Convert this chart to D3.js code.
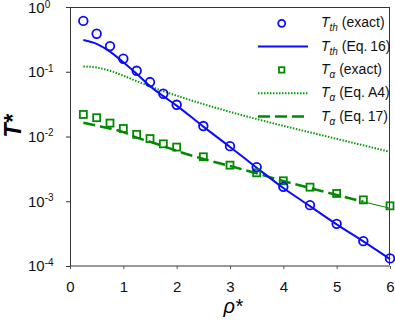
<!DOCTYPE html>
<html>
<head>
<meta charset="utf-8">
<script src="https://cdn.jsdelivr.net/npm/d3@7"></script>
<style>
  body { margin: 0; background: #fff; }
  text { font-family: Arial, "Liberation Sans", sans-serif; }
</style>
</head>
<body>
<svg id="chart" width="395" height="325"></svg>
<script>
// rho* values shared by every series
const rho = [0.25, 0.5, 0.75, 1, 1.25, 1.5, 1.75, 2, 2.5, 3, 3.5, 4, 4.5, 5, 5.5, 6]

// T_th exact (circles) and Eq.16 (solid line)
const thExact = [0.61, 0.386, 0.249, 0.159, 0.1035, 0.0693, 0.0457, 0.0309, 0.0145, 0.0071, 0.00337, 0.00167, 0.00087, 0.000448, 0.000242, 0.000131]
const thEq16 = [0.31, 0.27, 0.205, 0.14, 0.093, 0.06, 0.042, 0.030, 0.0142, 0.0069, 0.0033, 0.0016, 0.00084, 0.00044, 0.00024, 0.000128]

// T_alpha exact (squares), Eq.A4 (dotted), Eq.17 (dashed)
const alExact = [0.0219, 0.0195, 0.0161, 0.0133, 0.0108, 0.0093, 0.0077, 0.00686, 0.00486, 0.00361, 0.00275, 0.00207, 0.00165, 0.00132, 0.00105, 0.00085]
const alEqA4 = [0.121, 0.116, 0.1035, 0.087, 0.0716, 0.0596, 0.0501, 0.0427, 0.0316, 0.024, 0.0186, 0.0146, 0.0116, 0.0092, 0.0073, 0.0058]
const alEq17 = [0.0163, 0.0147, 0.0133, 0.0117, 0.0096, 0.0083, 0.0071, 0.0060, 0.0045, 0.0035, 0.0027, 0.00205, 0.0016, 0.00125, 0.00098, 0.00078]

const xTicks = [0, 1, 2, 3, 4, 5, 6]
const yTicks = [1, 0.1, 0.01, 0.001, 0.0001]
const yExp = ['0', '-1', '-2', '-3', '-4']

const legendLabels = [
    {sub: 'th', rest: ' (exact)'},
    {sub: 'th', rest: ' (Eq.\u200916)'},
    {sub: '\u03b1', rest: ' (exact)'},
    {sub: '\u03b1', rest: ' (Eq. A4)'},
    {sub: '\u03b1', rest: ' (Eq.\u200917)'}
]

const blue = '#0a0aff'
const green = '#008a00'
const margin = {top: 7, right: 5, bottom: 59, left: 70}
const width = 395 - margin.left - margin.right
const height = 325 - margin.top - margin.bottom

const svg = d3.select('#chart')
const g = svg.append('g').attr('transform', 'translate(' + margin.left + ',' + margin.top + ')')

const x = d3.scaleLinear().domain([0, 6]).range([0, width])
const y = d3.scaleLog().domain([1e-4, 1]).range([height, 0])

// frame: top and right dark, bottom grey
g.append('line').attr('x1', 0).attr('x2', width).attr('y1', 0.5).attr('y2', 0.5)
    .attr('stroke', '#333').attr('stroke-width', 1)
g.append('line').attr('x1', width - 0.5).attr('x2', width - 0.5).attr('y1', 0).attr('y2', height)
    .attr('stroke', '#333').attr('stroke-width', 1)

// x axis
const xAxis = g.append('g').attr('transform', 'translate(0,' + height + ')')
    .call(d3.axisBottom(x).tickValues(xTicks).tickSize(3).tickFormat(d3.format('d')))
xAxis.select('.domain').attr('stroke', '#999').attr('stroke-width', 2).attr('d', 'M0,0H' + width)
xAxis.selectAll('.tick line').attr('stroke', '#555')
xAxis.selectAll('.tick text').attr('font-size', 15).attr('fill', '#111').attr('dy', '1.35em')

// y axis
const yAxis = g.append('g')
    .call(d3.axisLeft(y).tickValues(yTicks).tickSize(4).tickFormat(''))
yAxis.select('.domain').attr('stroke', '#333').attr('d', 'M0.5,0V' + height)
yAxis.selectAll('.tick line').attr('stroke', '#333')

const yLab = g.append('g').selectAll('text').data(yTicks).enter().append('text')
    .attr('x', 28 - margin.left)
    .attr('y', (d, i) => y(d) + (i === 0 ? 6.3 : 5.3))
    .attr('font-size', 15)
    .attr('fill', '#111')
yLab.append('tspan').text('10')
yLab.append('tspan').attr('font-size', 10).attr('dy', -5.5).text((d, i) => yExp[i])

// axis titles
svg.append('text')
    .attr('transform', 'translate(21,126) rotate(-90)')
    .attr('text-anchor', 'middle')
    .attr('font-size', 23).attr('font-weight', 'bold').attr('font-style', 'italic')
    .text('T*')
svg.append('text')
    .attr('x', 233).attr('y', 313)
    .attr('text-anchor', 'middle')
    .attr('font-size', 20).attr('font-style', 'italic')
    .text('\u03c1*')

const line = d3.line().x(d => x(d[0])).y(d => y(d[1])).curve(d3.curveMonotoneX)
const pairs = arr => rho.map((r, i) => [r, arr[i]])

// dotted Eq.A4
g.append('path').datum(pairs(alEqA4)).attr('d', line)
    .attr('fill', 'none').attr('stroke', '#00a000').attr('stroke-width', 2).attr('stroke-dasharray', '1.5,1.5')

// dashed Eq.17, thin tail at the end
const tailFrom = rho.indexOf(5.5)
g.append('path').datum(pairs(alEq17).slice(0, tailFrom + 1)).attr('d', line)
    .attr('fill', 'none').attr('stroke', green).attr('stroke-width', 2.5).attr('stroke-dasharray', '12,5')
g.append('path').datum(pairs(alEq17).slice(tailFrom)).attr('d', line)
    .attr('fill', 'none').attr('stroke', green).attr('stroke-width', 1)

// solid Eq.16
g.append('path').datum(pairs(thEq16)).attr('d', line)
    .attr('fill', 'none').attr('stroke', blue).attr('stroke-width', 2)

// squares
g.append('g').selectAll('rect').data(pairs(alExact)).enter().append('rect')
    .attr('x', d => x(d[0]) - 3.5).attr('y', d => y(d[1]) - 3.5)
    .attr('width', 7).attr('height', 7)
    .attr('fill', 'none').attr('stroke', green).attr('stroke-width', 1.8)

// circles
g.append('g').selectAll('circle').data(pairs(thExact)).enter().append('circle')
    .attr('cx', d => x(d[0])).attr('cy', d => y(d[1])).attr('r', 4.3)
    .attr('fill', 'none').attr('stroke', blue).attr('stroke-width', 1.8)

// legend
const leg = svg.append('g')
const rowY = i => 23.3 + i * 23.3
leg.append('circle').attr('cx', 281.7).attr('cy', rowY(0)).attr('r', 3.5)
    .attr('fill', 'none').attr('stroke', blue).attr('stroke-width', 1.8)
leg.append('line').attr('x1', 258).attr('x2', 308).attr('y1', rowY(1)).attr('y2', rowY(1))
    .attr('stroke', blue).attr('stroke-width', 2)
leg.append('rect').attr('x', 279).attr('y', rowY(2) - 2.7).attr('width', 5.4).attr('height', 5.4)
    .attr('fill', 'none').attr('stroke', green).attr('stroke-width', 1.8)
leg.append('line').attr('x1', 258).attr('x2', 308).attr('y1', rowY(3)).attr('y2', rowY(3))
    .attr('stroke', '#00a000').attr('stroke-width', 2).attr('stroke-dasharray', '1.5,1.5')
leg.append('line').attr('x1', 258).attr('x2', 308).attr('y1', rowY(4)).attr('y2', rowY(4))
    .attr('stroke', green).attr('stroke-width', 2.5).attr('stroke-dasharray', '12,5')

const lt = leg.selectAll('text.lab').data(legendLabels).enter().append('text')
    .attr('class', 'lab')
    .attr('x', 321).attr('y', (d, i) => rowY(i) + 4)
    .attr('font-size', 14).attr('fill', '#111')
lt.append('tspan').attr('font-style', 'italic').text('T')
lt.append('tspan').attr('font-style', 'italic').attr('font-size', 10).attr('dy', 4).text(d => d.sub)
lt.append('tspan').attr('dy', -4).text(d => d.rest)
</script>
</body>
</html>
